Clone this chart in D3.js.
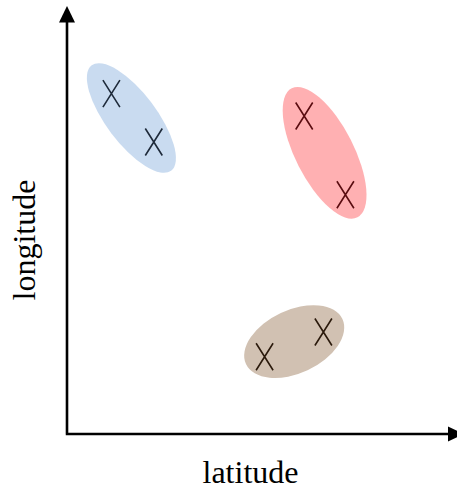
<!DOCTYPE html>
<html>
<head>
<meta charset="utf-8">
<script src="https://cdn.jsdelivr.net/npm/d3@7"></script>
<style>
  html, body { margin: 0; padding: 0; background: #ffffff; }
  svg { display: block; }
</style>
</head>
<body>
<div id="chart"></div>
<script>
// ---- data (arbitrary units, no ticks on the axes) ----
const groups = ["blue", "red", "brown"];
const clusterCenters = [[16.1, 79], [64.4, 70.3], [56.8, 23.1]];
const clusterAxes = [[16.5, 6.3], [18.1, 7.3], [13.3, 7.9]];   // semi-major, semi-minor
const clusterAngles = [53, 63, -25];                             // degrees, screen rotation
const pointGroup = ["blue", "blue", "red", "red", "brown", "brown"];
const pointX = [11.1, 21.7, 59.3, 69.6, 49.4, 64.1];
const pointY = [85.1, 73.0, 79.5, 59.8, 19.3, 25.5];
const xLabel = "latitude";
const yLabel = "longitude";

const fills = { blue: "#c9dbf0", red: "#ffb0b2", brown: "#d1c1b2" };
const marks = { blue: "#1e2a3a", red: "#5a0c10", brown: "#2b1a0c" };

const W = 457, H = 489;
const x0 = 67, y0 = 434;
const x = d3.scaleLinear().domain([0, 97.5]).range([x0, x0 + 390]);
const y = d3.scaleLinear().domain([0, 106]).range([y0, y0 - 424]);
const k = x(1) - x(0);

const svg = d3.select("#chart").append("svg").attr("width", W).attr("height", H);

// ellipses
svg.append("g").selectAll("ellipse").data(groups).join("ellipse")
  .attr("cx", 0).attr("cy", 0)
  .attr("rx", (d, i) => clusterAxes[i][0] * k)
  .attr("ry", (d, i) => clusterAxes[i][1] * k)
  .attr("transform", (d, i) => `translate(${x(clusterCenters[i][0])},${y(clusterCenters[i][1])}) rotate(${clusterAngles[i]})`)
  .attr("fill", d => fills[d]);

// X markers
const hw = 8.5, hh = 13.5;
svg.append("g").selectAll("path").data(pointGroup).join("path")
  .attr("d", (d, i) => {
    const cx = x(pointX[i]), cy = y(pointY[i]);
    return `M${cx - hw},${cy - hh}L${cx + hw},${cy + hh}M${cx + hw},${cy - hh}L${cx - hw},${cy + hh}`;
  })
  .attr("stroke", d => marks[d])
  .attr("stroke-width", 1.6)
  .attr("fill", "none");

// axes with arrows
const ax = svg.append("g");
ax.append("path")
  .attr("d", `M${x0},${y0}L${x0},20M${x0 - 1.25},${y0}L450,${y0}`)
  .attr("stroke", "#000").attr("stroke-width", 2.6).attr("fill", "none");
ax.append("path")
  .attr("d", `M${x0},6L${x0 + 8},22.5L${x0 - 8},22.5Z`)
  .attr("fill", "#000");
ax.append("path")
  .attr("d", `M464,${y0}L448,${y0 - 7.5}L448,${y0 + 7.5}Z`)
  .attr("fill", "#000");

// labels
svg.append("text")
  .attr("x", 250.5).attr("y", 483)
  .attr("text-anchor", "middle")
  .attr("font-family", "'Liberation Serif', 'Times New Roman', serif")
  .attr("font-size", 32)
  .attr("fill", "#000")
  .text(xLabel);
svg.append("text")
  .attr("transform", "translate(35,240) rotate(-90)")
  .attr("text-anchor", "middle")
  .attr("font-family", "'Liberation Serif', 'Times New Roman', serif")
  .attr("font-size", 32)
  .attr("fill", "#000")
  .text(yLabel);
</script>
</body>
</html>
